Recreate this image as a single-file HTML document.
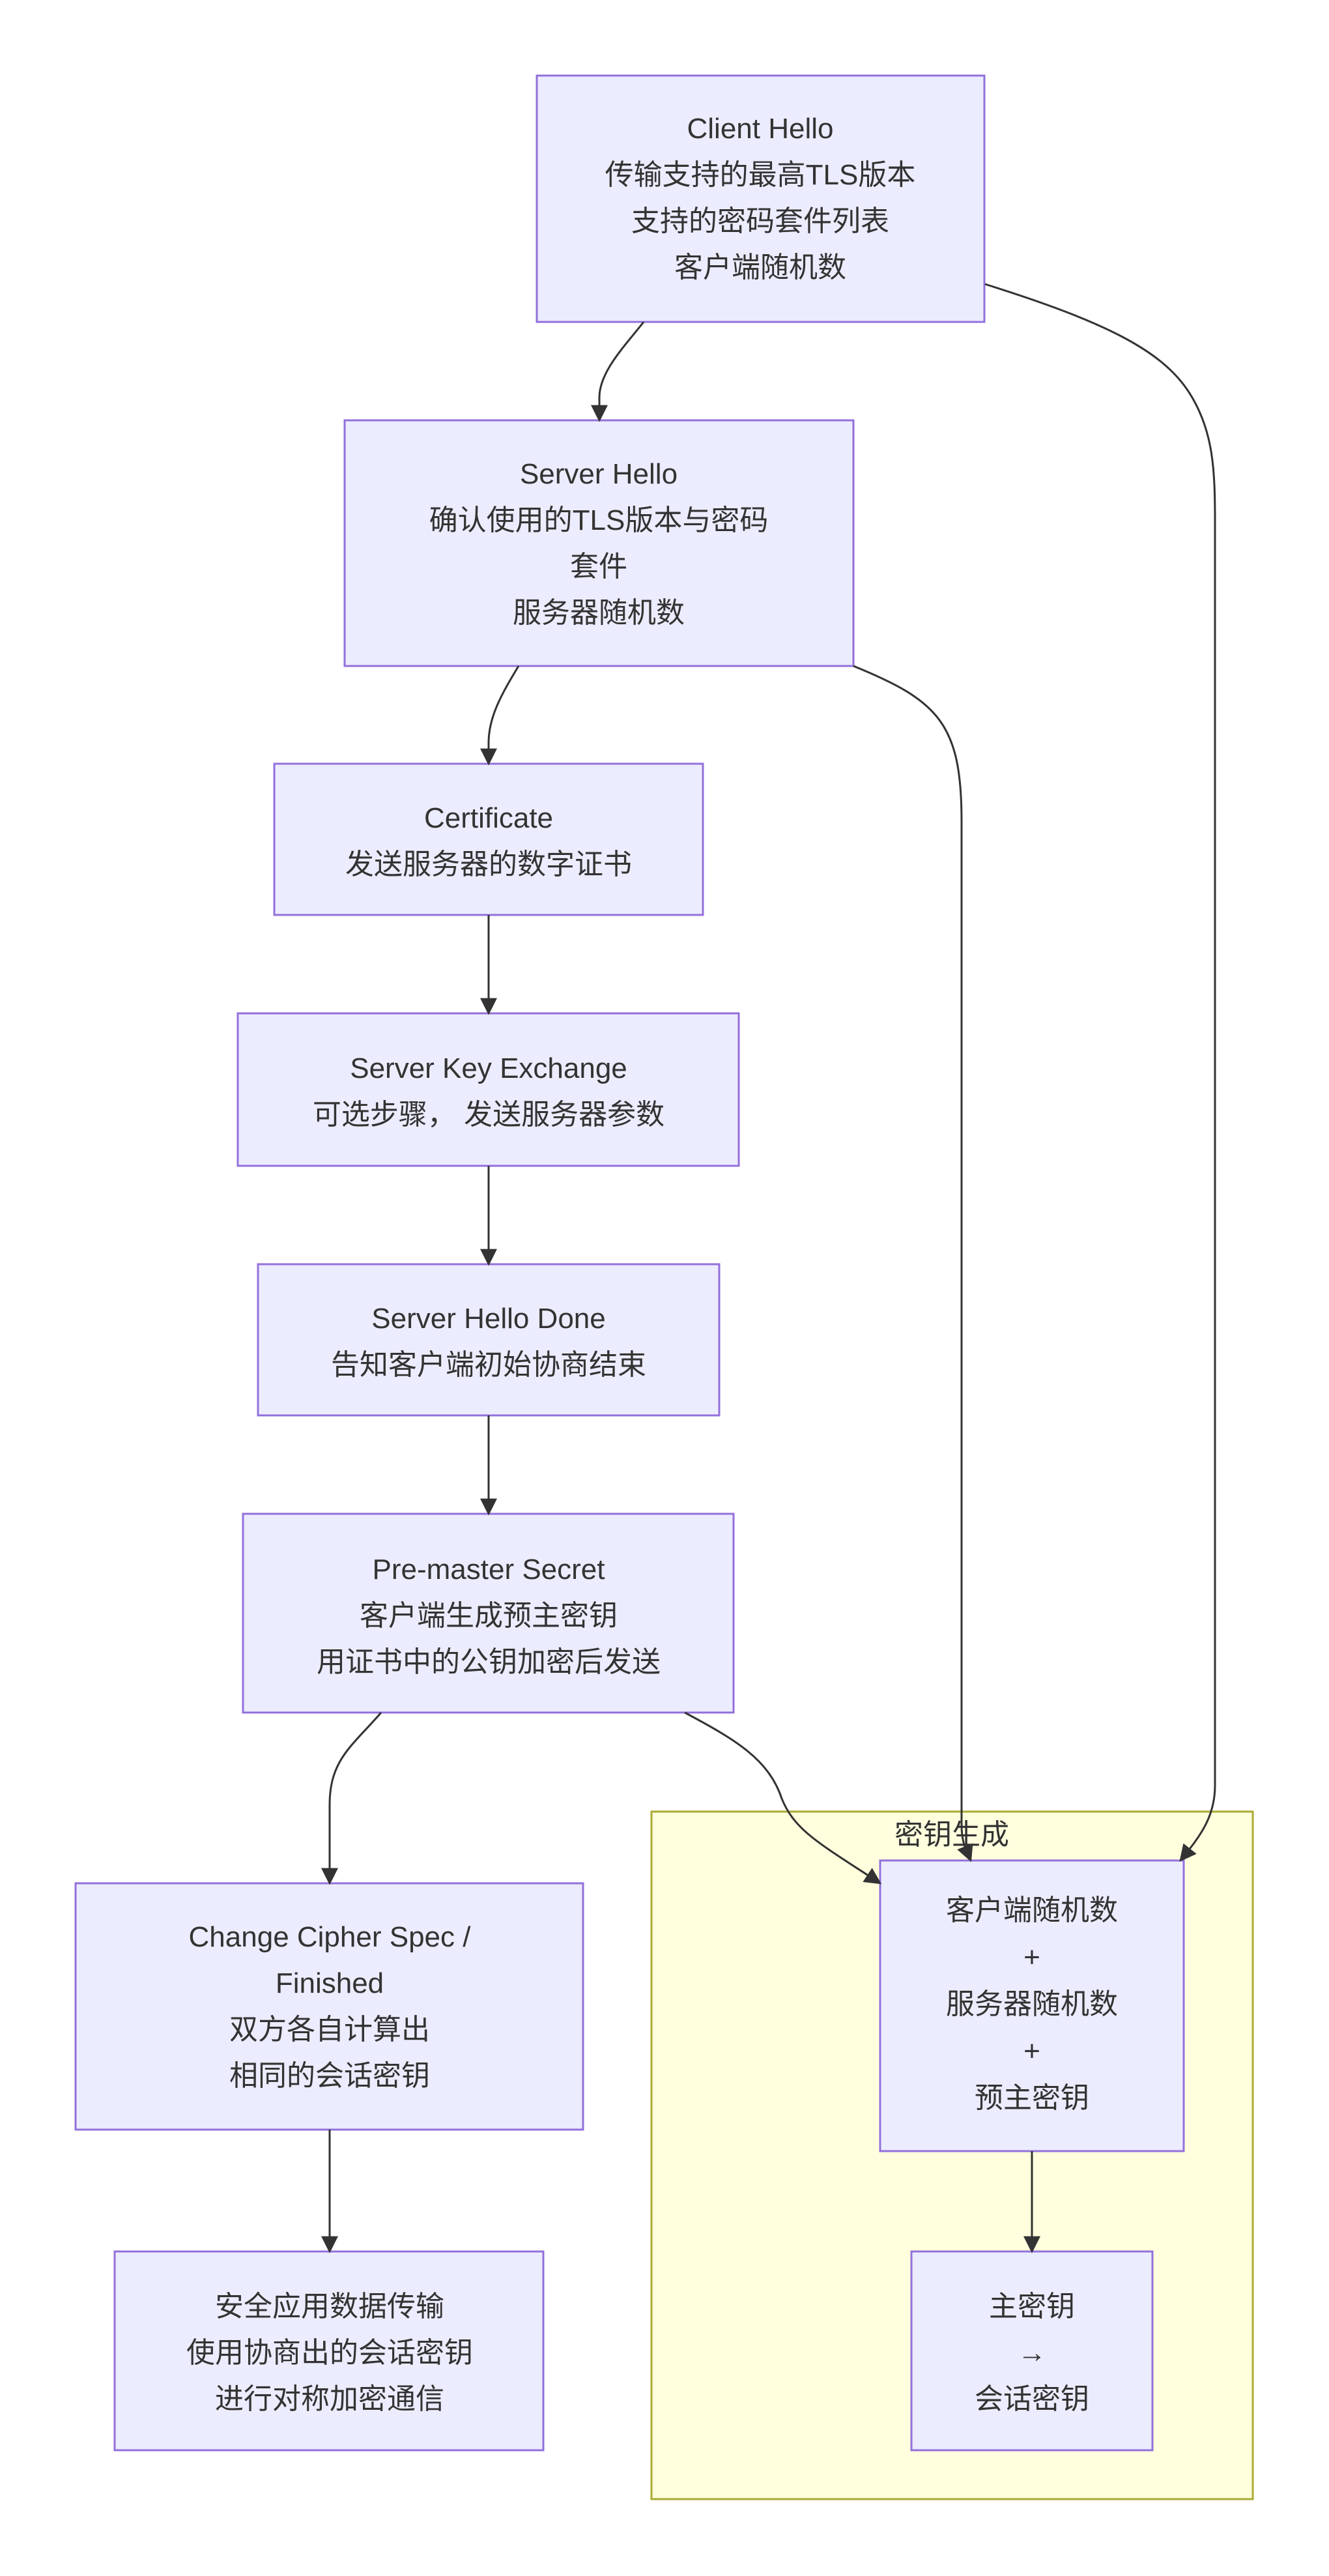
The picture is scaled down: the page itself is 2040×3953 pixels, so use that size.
<!DOCTYPE html>
<html><head><meta charset="utf-8"><style>
html,body{margin:0;padding:0;background:#fff;}
svg{display:block;}
text{font-family:"Liberation Sans","Noto Sans CJK SC",sans-serif;font-size:44px;fill:#333;text-anchor:middle;}
.n{fill:#ECECFF;stroke:#9370DB;stroke-width:3;}
.e{fill:none;stroke:#333;stroke-width:3;}
</style></head><body>
<svg width="2040" height="3953" viewBox="0 0 2040 3953" xmlns="http://www.w3.org/2000/svg">
<defs>
<marker id="b" viewBox="0 0 10 10" refX="9" refY="5" markerWidth="26" markerHeight="26" markerUnits="userSpaceOnUse" orient="auto"><path d="M0,0L10,5L0,10z" fill="#333"/></marker></defs>
<rect x="1000" y="2780" width="923" height="1055" fill="#FFFFDE" stroke="#AAAA33" stroke-width="3"/>
<g transform="translate(0,4)">
<text x="1461" y="2826">密钥生成</text>
</g>

<rect class="n" x="824" y="116" width="687" height="378"/>
<rect class="n" x="529" y="645" width="781" height="377"/>
<rect class="n" x="421" y="1172" width="658" height="232"/>
<rect class="n" x="365" y="1555" width="769" height="234"/>
<rect class="n" x="396" y="1940" width="708" height="232"/>
<rect class="n" x="373" y="2323" width="753" height="305"/>
<rect class="n" x="116" y="2890" width="779" height="378"/>
<rect class="n" x="176" y="3455" width="658" height="305"/>
<rect class="n" x="1351" y="2855" width="466" height="446"/>
<rect class="n" x="1399" y="3455" width="370" height="305"/>

<g transform="translate(0,4)">
<text x="1167" y="208">Client Hello</text><text x="1167" y="279">传输支持的最高TLS版本</text><text x="1167" y="350">支持的密码套件列表</text><text x="1167" y="421">客户端随机数</text>
<text x="919" y="738">Server Hello</text><text x="919" y="809">确认使用的TLS版本与密码</text><text x="919" y="880">套件</text><text x="919" y="951">服务器随机数</text>
<text x="750" y="1266">Certificate</text><text x="750" y="1337">发送服务器的数字证书</text>
<text x="750" y="1650">Server Key Exchange</text><text x="750" y="1721">可选步骤， 发送服务器参数</text>
<text x="750" y="2034">Server Hello Done</text><text x="750" y="2105">告知客户端初始协商结束</text>
<text x="750" y="2419">Pre-master Secret</text><text x="750" y="2490">客户端生成预主密钥</text><text x="750" y="2561">用证书中的公钥加密后发送</text>
<text x="506" y="2983">Change Cipher Spec /</text><text x="506" y="3054">Finished</text><text x="506" y="3125">双方各自计算出</text><text x="506" y="3196">相同的会话密钥</text>
<text x="506" y="3550">安全应用数据传输</text><text x="506" y="3621">使用协商出的会话密钥</text><text x="506" y="3692">进行对称加密通信</text>
<text x="1584" y="2942">客户端随机数</text><text x="1584" y="3014">+</text><text x="1584" y="3086">服务器随机数</text><text x="1584" y="3158">+</text><text x="1584" y="3230">预主密钥</text>
<text x="1584" y="3550">主密钥</text><text x="1584" y="3621">→</text><text x="1584" y="3692">会话密钥</text>
</g>

<path class="e" marker-end="url(#b)" d="M988,494 C960,530 920,570 920,610 L920,645"/>
<path class="e" marker-end="url(#b)" d="M1512,436 C1700,495 1790,540 1830,610 C1862,665 1865,720 1865,800 L1865,2740 C1865,2790 1840,2820 1812,2855"/>
<path class="e" marker-end="url(#b)" d="M1310,1022 C1440,1075 1476,1110 1476,1260 L1476,2800 C1476,2830 1484,2840 1490,2855"/>
<path class="e" marker-end="url(#b)" d="M796,1022 C770,1065 750,1100 750,1140 L750,1172"/>
<path class="e" marker-end="url(#b)" d="M750,1404 L750,1555"/>
<path class="e" marker-end="url(#b)" d="M750,1789 L750,1940"/>
<path class="e" marker-end="url(#b)" d="M750,2172 L750,2323"/>
<path class="e" marker-end="url(#b)" d="M585,2628 C540,2680 506,2700 506,2770 L506,2890"/>
<path class="e" marker-end="url(#b)" d="M1051,2628 C1130,2670 1180,2700 1200,2760 C1220,2810 1260,2830 1351,2890"/>
<path class="e" marker-end="url(#b)" d="M506,3268 L506,3455"/>
<path class="e" marker-end="url(#b)" d="M1584,3301 L1584,3455"/>
</svg>
</body></html>
